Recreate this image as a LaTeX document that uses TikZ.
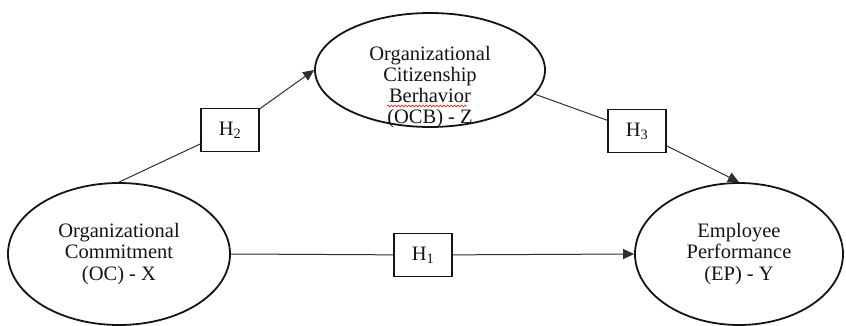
\documentclass[tikz,border=0pt]{standalone}
\usepackage{fontspec}
\setmainfont{Liberation Serif}
\usetikzlibrary{arrows.meta,shapes.geometric,decorations.pathmorphing}
\definecolor{ink}{HTML}{141414}
\definecolor{wire}{HTML}{2E2E2E}
\definecolor{spell}{HTML}{E02828}
\tikzset{
  varnode/.style={
    ellipse, draw=ink, line width=1.8pt,
    minimum width=#1, inner sep=0pt,
    font=\fontsize{20.5}{21.5}\selectfont, text=ink, align=center
  },
  varnode/.default=220pt,
  vartext/.style={
    font=\fontsize{20.5}{21}\selectfont, text=ink, align=center,
    inner sep=0pt
  },
  hypbox/.style={
    rectangle, draw=ink, line width=1.5pt,
    minimum width=58pt, minimum height=43pt,
    font=\fontsize{20.5}{22}\selectfont, text=ink, inner sep=0pt
  },
  link/.style={
    line width=1pt, color=wire
  },
  linkarrow/.style={
    -{Triangle[length=11pt, width=10pt]}, line width=1pt, color=wire
  },
  squiggle/.style={
    decorate, decoration={snake, amplitude=0.9pt, segment length=3.5pt},
    line width=0.7pt, color=spell
  },
}

\begin{document}
\begin{tikzpicture}[x=1pt, y=-1pt]
  \useasboundingbox (0,0) rectangle (846,326);

  % Variables
  \node[varnode=230pt, minimum height=114pt] (ocb) at (430,70) {};
  \node[vartext] (ocbtext) at (430,87)
    {Organizational\\Citizenship\\Berhavior\\(OCB) - Z};
  \node[varnode=222pt, minimum height=142pt] (oc) at (119,254)
    {Organizational\\Commitment\\(OC) - X};
  \node[varnode=208pt, minimum height=142pt] (ep) at (739,254)
    {Employee\\Performance\\(EP) - Y};

  % spell-check mark under Berhavior
  \draw[squiggle] ([xshift=-43pt, yshift=-19pt]ocbtext.center)
    -- ([xshift=37pt, yshift=-19pt]ocbtext.center);

  % Hypotheses
  \node[hypbox] (h2) at (230,130) {H\textsubscript{2}};
  \node[hypbox] (h3) at (637,131) {H\textsubscript{3}};
  \node[hypbox] (h1) at (423,255) {H\textsubscript{1}};

  % Paths
  \draw[link] (oc.north) -- (h2);
  \draw[linkarrow] (h2) -- (ocb.west);
  \draw[link] (ocb.-13) -- (h3);
  \draw[linkarrow] (h3) -- (ep.north);
  \draw[link] (oc.east) -- (h1);
  \draw[linkarrow] (h1) -- (ep.west);
\end{tikzpicture}
\end{document}
